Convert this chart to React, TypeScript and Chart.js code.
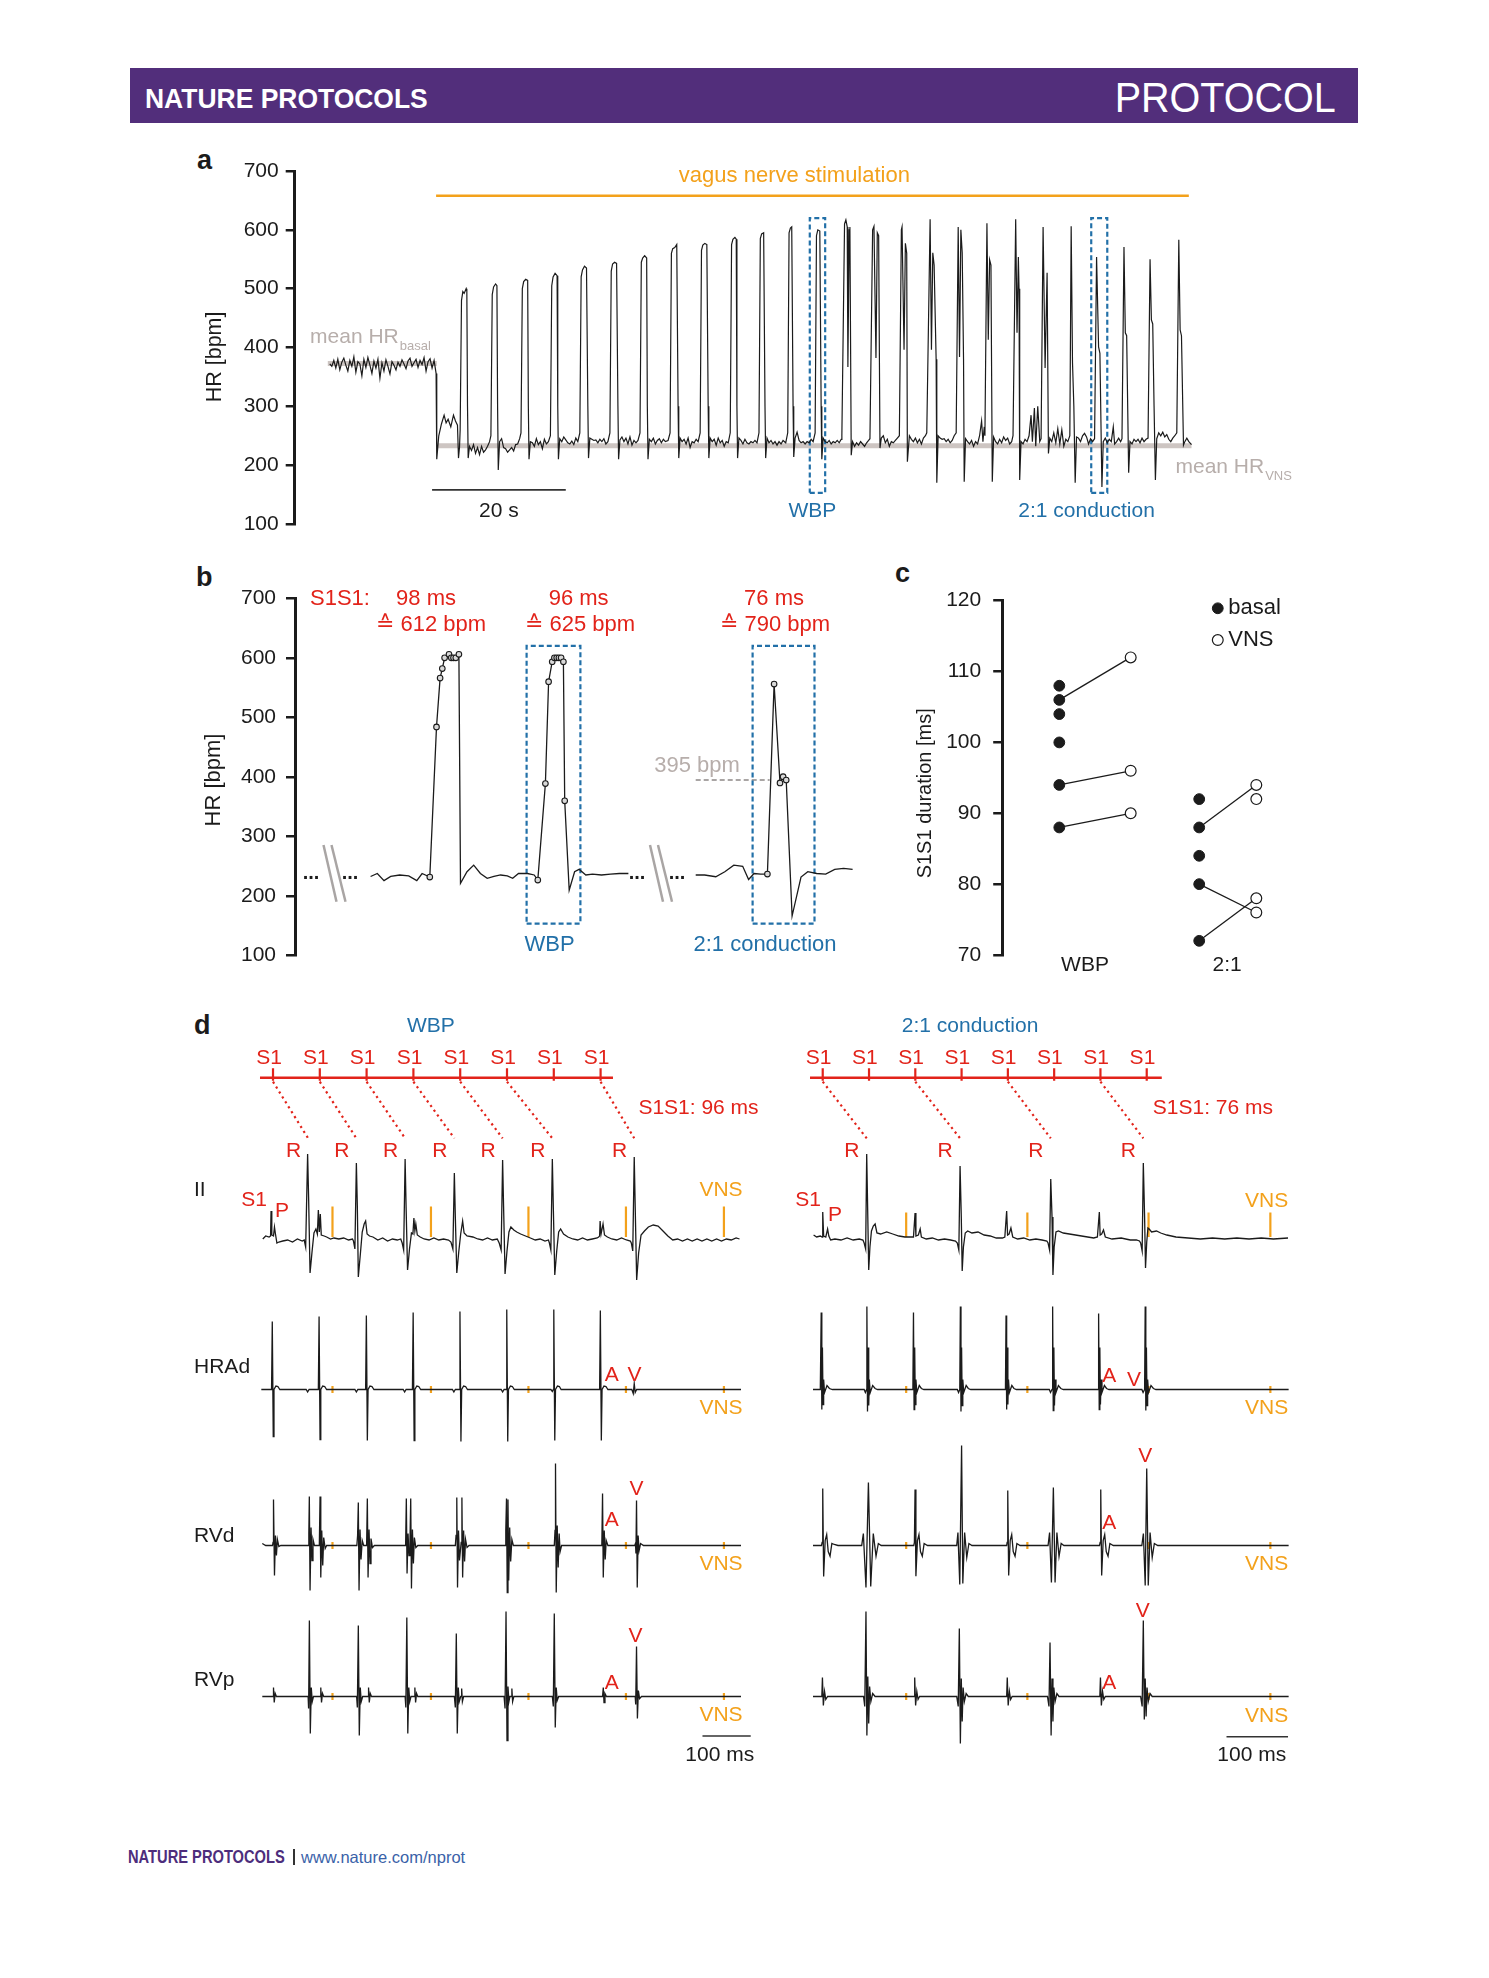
import React, { useEffect, useRef } from "react";
import { Chart, registerables } from "chart.js";
Chart.register(...registerables);

const FONT = "'Liberation Sans', Arial, Helvetica, 'DejaVu Sans', sans-serif";
const RED = "#e2231a";
const BLUE = "#2270a8";
const ORANGE = "#f3a11b";
const GRAYTXT = "#b7aeab";
const MEANGRAY = "#cdc5c2";
const INK = "#1b1b1b";

// ---------------- Panel a : heart rate over time (s, bpm) ----------------
const aYTicks = [100, 200, 300, 400, 500, 600, 700];
const aMeanBasal = 373;
const aMeanVns = 233;
const aVnsOn = [16.4, 129.0];
const aVnsLevel = 658;
const aScaleBar = [15.8, 35.8];
const aWbpBox = [72.3, 74.6, 153, 620];
const a21Box = [114.4, 116.8, 153, 620];
const aHrTrace = [
  [0.5,372],[0.8,368],[1.1,378],[1.4,365],[1.7,380],[2.0,362],[2.3,375],[2.6,382],[2.9,370],[3.2,360],[3.5,378],[3.8,368],[4.1,384],[4.4,358],[4.7,376],[5.0,372],[5.3,352],[5.6,380],[5.9,366],[6.2,383],[6.5,370],[6.8,356],[7.1,377],[7.4,365],[7.7,380],[8.0,348],[8.3,374],[8.6,360],[8.9,379],[9.2,368],[9.5,355],[9.8,376],[10.1,370],[10.4,362],[10.7,375],[11.0,368],[11.3,379],[11.6,372],[11.9,364],[12.2,377],[12.5,382],[12.8,368],[13.1,374],[13.4,380],[13.7,366],[14.0,378],[14.3,371],[14.6,383],[14.9,360],[15.2,376],[15.5,381],[15.8,365],[16.1,378],[16.4,356],
  [16.5,210],[16.8,250],[17.2,270],[17.6,285],[17.9,272],[18.2,278],[18.6,265],[19.0,285],[19.3,275],[19.6,268],[19.75,212],[19.9,230],
  [20.0,260],[20.2,480],[20.4,495],[20.6,492],[20.9,500],[21.0,496],[21.1,300],[21.2,212],[21.4,232],
  [21.7,225],[22.0,235],[22.3,220],[22.6,230],[22.9,218],[23.2,232],[23.5,222],[23.8,226],[24.1,232],[24.4,240],
  [24.6,250],[24.8,490],[25.0,503],[25.3,508],[25.5,505],[25.6,300],[25.7,192],[25.9,240],[26.2,245],[26.5,230],[26.8,228],[27.1,222],[27.4,226],[27.7,230],[28.0,224],[28.3,235],[28.6,236],[28.9,245],
  [29.1,255],[29.3,500],[29.5,512],[29.8,516],[30.1,514],[30.2,300],[30.3,210],[30.5,240],[30.8,238],[31.1,232],[31.4,245],[31.7,235],[32.0,240],[32.3,228],[32.6,244],[32.9,236],[33.2,240],
  [33.5,250],[33.7,505],[33.9,520],[34.2,526],[34.5,522],[34.6,300],[34.7,210],[34.9,245],[35.2,240],[35.5,248],[35.8,243],[36.1,238],[36.4,236],[36.7,241],[37.0,235],[37.3,246],[37.6,240],
  [37.9,255],[38.1,520],[38.3,532],[38.6,538],[38.9,535],[39.1,300],[39.2,212],[39.4,246],[39.7,244],[40.0,242],[40.3,243],[40.6,238],[40.9,244],[41.2,240],[41.5,245],[41.8,236],[42.1,240],
  [42.4,255],[42.6,530],[42.8,542],[43.1,545],[43.4,543],[43.6,300],[43.7,210],[43.9,243],[44.2,248],[44.5,240],[44.8,246],[45.1,236],[45.4,248],[45.7,234],[46.0,242],[46.3,238],[46.6,242],
  [46.9,255],[47.1,545],[47.3,552],[47.6,556],[47.9,552],[48.0,300],[48.1,210],[48.3,244],[48.6,240],[48.9,246],[49.2,236],[49.5,242],[49.8,245],[50.1,238],[50.4,244],[50.7,240],[51.1,242],
  [51.4,255],[51.6,560],[51.8,568],[52.1,570],[52.4,575],[52.6,300],[52.7,212],[52.9,246],[53.2,240],[53.5,244],[53.8,236],[54.1,246],[54.4,230],[54.7,240],[55.0,238],[55.3,244],[55.6,240],
  [55.9,255],[56.1,565],[56.3,574],[56.6,577],[56.9,575],[57.1,300],[57.2,212],[57.4,246],[57.7,240],[58.0,244],[58.3,234],[58.6,246],[58.9,238],[59.2,242],[59.5,232],[59.8,240],[60.1,238],
  [60.4,255],[60.6,575],[60.8,584],[61.1,587],[61.3,584],[61.4,300],[61.5,212],[61.7,246],[62.0,242],[62.3,236],[62.6,244],[62.9,238],[63.2,236],[63.5,240],[63.8,238],[64.1,242],[64.4,238],
  [64.7,255],[64.9,585],[65.1,593],[65.4,595],[65.6,300],[65.7,212],[65.9,246],[66.2,238],[66.5,242],[66.8,236],[67.1,240],[67.4,234],[67.7,240],[68.0,236],[68.3,242],[68.7,238],
  [69.0,255],[69.2,595],[69.4,603],[69.6,605],[69.8,300],[69.9,214],[70.1,246],[70.4,256],[70.7,242],[71.0,238],[71.3,240],[71.6,236],[71.9,240],[72.2,238],[72.5,244],[72.8,240],
  [73.1,255],[73.3,590],[73.5,600],[73.8,598],[74.0,300],[74.1,210],[74.3,246],[74.6,240],[74.9,238],[75.2,242],[75.5,236],[75.8,240],[76.1,238],[76.4,242],[76.7,238],[77.0,244],
  [77.1,250],[77.5,610],[77.7,617],[77.9,605],[78.0,367],[78.2,600],[78.3,605],[78.5,217],[78.7,240],[79.0,232],[79.3,238],[79.6,234],[79.9,240],[80.2,236],[80.5,232],[80.8,238],[81.1,242],
  [81.3,245],[81.7,600],[81.9,606],[82.2,382],[82.4,595],[82.6,590],[82.8,229],[83.0,246],[83.3,250],[83.6,238],[83.9,244],[84.2,232],[84.5,240],[84.8,238],[85.1,242],[85.4,246],
  [85.7,250],[86.0,600],[86.1,605],[86.4,396],[86.6,577],[86.8,560],[86.9,206],[87.2,250],[87.5,244],[87.8,240],[88.1,246],[88.4,238],[88.7,244],[89.0,236],[89.3,246],[89.6,250],
  [89.8,255],[90.3,618],[90.5,396],[90.7,561],[90.9,540],[91.2,380],[91.3,170],[91.5,250],[91.8,246],[92.1,244],[92.4,245],[92.7,240],[93.0,244],[93.3,238],[93.6,242],[93.9,250],
  [94.2,255],[94.5,605],[94.7,384],[94.9,600],[95.1,561],[95.3,380],[95.4,172],[95.6,245],[95.9,240],[96.2,236],[96.5,242],[96.8,232],[97.1,240],[97.4,236],[97.7,250],[98.0,275],[98.2,240],[98.4,265],
  [98.5,250],[98.8,611],[99.0,413],[99.2,549],[99.4,540],[99.6,172],[99.8,248],[100.1,240],[100.4,236],[100.7,244],[101.0,238],[101.3,248],[101.6,242],[101.9,246],[102.2,236],[102.5,240],
  [102.7,250],[103.1,618],[103.3,425],[103.5,554],[103.6,500],[103.7,175],[103.9,240],[104.2,236],[104.5,244],[104.8,240],[105.1,250],[105.4,285],[105.6,240],[105.9,297],[106.1,232],[106.4,300],[106.7,240],
  [106.9,245],[107.2,605],[107.5,365],[107.8,527],[108.0,220],[108.2,246],[108.5,240],[108.8,255],[109.1,238],[109.4,262],[109.7,236],[110.0,260],[110.3,232],[110.6,244],[110.9,240],
  [111.2,250],[111.4,606],[111.6,374],[111.8,300],[112.0,170],[112.2,248],[112.5,246],[112.8,240],[113.1,250],[113.4,254],[113.7,248],[114.0,236],[114.3,245],[114.6,240],
  [114.9,245],[115.2,554],[115.5,401],[115.7,390],[116.0,163],[116.2,240],[116.5,246],[116.8,238],[117.1,244],[117.4,240],[117.7,265],[117.9,236],[118.2,240],[118.5,246],[118.8,240],
  [119.0,245],[119.3,571],[119.5,425],[119.7,420],[120.0,187],[120.2,240],[120.5,236],[120.8,244],[121.1,240],[121.4,244],[121.7,238],[122.0,246],[122.3,240],[122.6,244],
  [122.9,246],[123.2,550],[123.4,447],[123.6,440],[123.8,300],[124.0,175],[124.2,245],[124.5,255],[124.8,250],[125.1,256],[125.4,248],[125.7,252],[126.0,244],[126.3,240],[126.6,246],[126.9,250],
  [127.2,255],[127.5,583],[127.7,430],[127.9,420],[128.2,234],[128.4,240],[128.7,246],[129.0,240],[129.4,235],
];

// ---------------- Panel b : beat-to-beat HR (a.u. time, bpm); 3rd value 1 = detected beat ----------------
const bYTicks = [100, 200, 300, 400, 500, 600, 700];
const bSegWbp = [
  [7.56,233],[8.23,238],[8.90,226],[9.57,233],[10.47,235.5],[11.37,234],[12.18,226],[12.71,238],
  [13.48,232,1],[14.15,484,1],[14.51,566,1],[14.73,582,1],[14.96,600,1],[15.40,606,1],[15.63,600,1],[15.85,600,1],[16.08,600,1],[16.39,606,1],
  [16.55,221.5],[17.2,241],[17.87,252],[18.54,238],[19.22,230],[19.89,233],[20.56,235.5],[21.23,234],[21.77,230],[22.35,238],[23.25,238],[23.92,235.5],
  [24.28,227,1],[25.04,389,1],[25.36,560,1],[25.72,593.5,1],[25.94,600,1],[26.17,600,1],[26.39,600,1],[26.61,600,1],[26.84,593.5,1],[26.97,360,1],
  [27.42,210],[27.96,241],[28.41,245],[29.08,235.5],[29.75,237],[30.65,235.5],[31.55,237],[32.44,238],[33.34,238],
];
const bSeg21 = [
  [40.07,235.5],[40.96,235.5],[42.08,232.6],[42.98,241],[43.88,252],[44.77,250],[45.36,228],[45.9,238],[46.57,237],
  [47.24,237,1],[47.91,556,1],[48.50,390,1],[48.81,400.5,1],[49.12,395,1],
  [49.71,166.6],[50.6,232],[51.28,241],[52.17,238],[53.07,237],[53.97,245],[54.86,246.7],[55.76,245],
];
const bWbpBox = [23.16, 28.54, 154, 620];
const b21Box = [45.76, 51.95, 154, 620];
const b395Line = [40.07, 47.47, 395];
const bBreaks = [2.85, 35.5];

// ---------------- Panel c : S1S1 duration (ms) ----------------
const cYTicks = [70, 80, 90, 100, 110, 120];
const cGroupX = { wbpBasal: 1, wbpVns: 2, cBasal: 2.96, cVns: 3.76 };
const cBasalWbp = [108, 106, 104, 100, 94, 88];
const cVnsWbp = [112, 96, 90];
const cPairsWbp = [[106, 112], [94, 96], [88, 90]];
const cBasal21 = [92, 88, 84, 80, 72];
const cVns21 = [94, 92, 78, 76];
const cPairs21 = [[88, 94], [80, 76], [72, 78]];

// ---------------- Panel d : electrograms (ms, amplitude a.u.) ----------------
const dLeftS1 = [0, 96, 192, 288, 384, 480, 576, 672];
const dLeftR = [72, 171, 271, 372, 471, 573, 741];
const dLeftConducted = [[0, 72], [96, 171], [192, 271], [288, 372], [384, 471], [480, 573], [672, 741]];
const dLeftVns = [122, 324, 524, 724, 925];
const dRightS1 = [0, 76, 152, 228, 304, 380, 456, 532];
const dRightR = [72.2, 225.5, 374.4, 526.4];
const dRightConducted = [[0, 72.2], [152, 225.5], [304, 374.4], [456, 526.4]];
const dRightVns = [137, 336, 535, 735];

const dLeftII = [
  [-21,-0.2],[-15,0.1],[-8,0],[-5,0.1],[-4,2.6],[-2.5,0.2],[1,0.1],[3,1.0],[5,0.3],[8,-0.6],[12,-0.5],[20,-0.4],[30,-0.3],[40,-0.5],[50,-0.2],[60,-0.4],
  [64,-0.3],[67,-1.0],[71,8.3],[73,4],[76,-3.6],[80,-1.5],[84,0.4],[88,0.8],[91,0.3],[93,2.7],[95,0.5],[97,2.3],[99,0.2],[105,0.1],[110,0],[118,-0.2],[125,-0.1],[135,-0.2],[145,-0.1],[155,-0.3],[163,-0.2],
  [165,-0.4],[168,-1.2],[171,7.4],[173,3],[175,-4.0],[179,-1.8],[183,0.5],[187,1.3],[190,1.6],[193,0.3],[198,0.1],[205,0],[215,-0.3],[225,-0.1],[235,-0.4],[245,-0.2],[255,-0.3],[262,-0.2],
  [265,-0.6],[268,-1.3],[271,7.8],[273,3],[276,-3.3],[280,-1.2],[284,0.4],[287,0.3],[289,1.9],[291,0.6],[293,1.3],[296,0.2],[302,0],[310,-0.2],[320,-0.3],[330,-0.1],[340,-0.3],[350,-0.2],[360,-0.3],
  [365,-0.5],[369,-1.2],[372,6.4],[374,2],[377,-3.6],[381,-1.5],[385,0.3],[389,1.6],[392,0.4],[398,0.1],[410,0],[420,-0.2],[430,-0.3],[440,-0.1],[450,-0.3],[460,-0.2],
  [464,-0.6],[468,-1.3],[471,7.7],[473,3],[476,-3.7],[480,-1.4],[484,0.5],[488,1.0],[494,0.7],[500,0.5],[508,0.3],[518,0.1],[528,-0.1],[538,-0.3],[548,-0.2],[558,-0.4],[565,-0.3],
  [567,-0.6],[570,-1.3],[573,7.8],[575,3],[578,-3.8],[582,-1.4],[586,0.5],[590,0.8],[596,0.3],[605,0],[615,-0.2],[625,-0.3],[635,-0.1],[645,-0.3],[655,-0.2],[665,-0.1],
  [668,0],[670,0.1],[671,1.6],[673,0.3],[677,1.3],[680,0.2],[686,0],[695,-0.2],[705,-0.3],[715,-0.1],[725,-0.3],[733,-0.4],
  [735,-0.6],[738,-1.4],[741,8.0],[743,3],[746,-4.3],[750,-1.6],[755,0.2],[762,0.6],[770,1.0],[780,1.2],[790,1.1],[800,0.6],[810,0.1],[820,-0.3],[830,-0.2],[840,-0.4],[850,-0.2],[860,-0.4],[870,-0.2],[880,-0.4],[890,-0.2],[900,-0.4],[910,-0.2],[920,-0.4],[930,-0.2],[940,-0.3],[950,-0.1],[957,-0.2],
];
const dLeftHRAd = [
  [-24,0],[-3,0],[-1.5,6.8],[0.5,-4.7],[2,0],[6,0.35],[10,0.3],[14,0],[40,0],[68,0],[71,-0.25],[74,0],
  [93,0],[94.5,7.3],[96.5,-5.0],[98,0],[102,0.35],[106,0.3],[110,0],[150,0],[168,0],[171,-0.25],[174,0],
  [190,0],[191.5,7.4],[193.5,-5.1],[195,0],[199,0.35],[203,0.3],[207,0],[240,0],[267,0],[270,-0.25],[273,0],
  [286,0],[287.5,7.7],[289.5,-5.1],[291,0],[295,0.35],[299,0.3],[303,0],[340,0],[368,0],[371,-0.25],[374,0],
  [382,0],[383.5,7.8],[385.5,-5.2],[387,0],[391,0.35],[395,0.3],[399,0],[440,0],[468,0],[471,-0.25],[474,0],
  [478,0],[479.5,8.0],[481.5,-5.2],[483,0],[487,0.35],[491,0.3],[495,0],[540,0],[570,0],[573,-0.2],[575,0],
  [576,8.0],[578,-5.1],[579.5,0],[583.5,0.35],[587.5,0.3],[591,0],[630,0],[670,0],
  [671.5,7.9],[673.5,-5.1],[675,0],[679,0.35],[683,0.3],[687,0],[736,0],[739,-0.4],[741,0.6],[743,-0.3],[746,0],[800,0],[960,0],
];
const dLeftRVd = [
  [-22,0.2],[-15,0],[-1,0],[0,0.3],[1,4.6],[3,-3.0],[5,1.0],[7,-1.0],[9,0.6],[12,-0.1],[16,0],[60,0],
  [72,0],[73.5,1.2],[74.5,4.9],[76,-4.5],[78,1.8],[80,-1.5],[82,0.6],[85,0],
  [95,0],[96.5,4.9],[98,-3.2],[100,1.5],[102,-2.0],[104,0.8],[107,-0.3],[110,0],[150,0],
  [172,0],[173.5,1.0],[175,4.3],[176.5,-4.5],[178.5,1.6],[180.5,-1.4],[183,0.5],[186,0],
  [192,0],[193.5,4.7],[195,-3.2],[197,1.6],[199,-1.8],[201,0.7],[204,-0.2],[208,0],[240,0],
  [272,0],[273.5,4.7],[275,-2.8],[277,1.2],[279,-1.0],[281,0.5],[282.5,4.7],[284,-4.3],[286,1.6],[288,-1.8],[290,0.8],[293,-0.2],[297,0],[340,0],
  [374,0],[375.5,1.0],[377,4.8],[378.5,-4.2],[380.5,1.5],[382.5,-1.5],[386,0.3],[387.5,4.8],[389,-3.2],[391,1.5],[393,-1.6],[395,0.6],[398,-0.2],[402,0],[440,0],
  [476,0],[477.5,1.5],[479,4.7],[480.5,-4.7],[482,4.6],[483.5,-3.5],[485.5,1.8],[487.5,-1.6],[490,0.6],[493,0],[540,0],
  [577,0],[578.5,1.5],[579.5,8.2],[581,-4.7],[583,2.0],[585,-2.2],[587,1.2],[589,-0.6],[592,0],[630,0],
  [674.5,0],[676,5.2],[677.5,-3.2],[679.5,1.5],[681.5,-1.4],[683.5,0.5],[687,0],[730,0],
  [742,0],[743.5,0.2],[744.5,-0.8],[745.7,4.5],[747.2,-4.2],[749,1.0],[751,-0.5],[754,0.2],[760,0],[960,0],
];
const dLeftRVp = [
  [-22,0],[0,0],[1,0.9],[2.5,-0.6],[4.5,0.3],[7,0],[70,0],
  [72,0],[73,-1.2],[74.6,7.6],[76.5,-3.7],[78.5,0.9],[80.5,-0.5],[83,0],
  [97,0],[98,0.9],[99.5,-0.6],[101.5,0.3],[104,0],[170,0],
  [171.5,0],[173,-1.1],[175,7.1],[177,-3.9],[179,0.9],[181,-0.5],[184,0],
  [195,0],[196,0.9],[197.5,-0.6],[199.5,0.3],[202,0],[270,0],
  [271,0],[272.5,-1.1],[274.5,7.9],[276.5,-3.7],[278.5,0.9],[280.5,-0.5],[283,0],
  [290,0],[291,0.9],[292.5,-0.6],[294.5,0.3],[297,0],[372,0],
  [373,0],[374,-1.1],[376,6.3],[378,-3.7],[380,0.9],[382,-0.5],[385,0],
  [386,0],[387,0.8],[388.5,-0.5],[391,0],[474,0],
  [475,0],[476,-1.2],[478,8.5],[480,-4.4],[482,1.0],[484,-0.5],[486,0],
  [489,0],[490,0.8],[491.5,-0.5],[494,0],[573,0],
  [574,0],[575,-1.0],[577,8.3],[579,-3.1],[581,0.9],[583,-0.4],[586,0],
  [676,0],[677.5,0.9],[679,-0.6],[681,0.3],[684,0],[742,0],
  [743,0],[744,-0.8],[745.7,5.0],[747.5,-2.2],[749.5,0.6],[752,-0.2],[756,0],[960,0],
];

const dRightII = [
  [-15,0.2],[-10,0],[-4,0.1],[-1,0],[0,2.5],[1.5,0.1],[5,0],[8,0.8],[10,0.1],[13,-0.3],[20,-0.2],[30,-0.3],[40,-0.1],[50,-0.3],[60,-0.2],[66,-0.3],
  [68,-0.6],[70.5,-1.2],[72.2,8.3],[74,2.0],[75.5,-3.3],[77.5,-1.0],[80,0.6],[83,1.1],[86,1.3],[89,0.4],[95,0.3],[105,0.5],[115,0.3],[125,0.1],[135,0],
  [149,0],[151.6,2.4],[153,0.1],[157,0.2],[160,0.8],[162,0],[170,-0.2],[180,-0.1],[190,-0.3],[200,-0.2],[210,-0.3],[218,-0.4],
  [221,-0.6],[223.5,-1.3],[225.5,7.1],[227.5,2],[229,-3.4],[231,-1.0],[234,0.4],[238,0.6],[245,0.4],[255,0.5],[265,0.2],[275,0.1],[285,-0.1],[295,-0.1],
  [299,0],[302,2.6],[303.5,0.2],[306,0.3],[309,0.9],[312,0],[320,-0.2],[330,-0.1],[340,-0.3],[350,-0.2],[360,-0.3],[368,-0.4],
  [370,-0.6],[372.5,-1.3],[374.4,5.8],[376.5,2],[378,-3.8],[380,-1.0],[383,0.5],[387,0.6],[395,0.4],[405,0.3],[415,0.2],[425,0.1],[435,0],[445,-0.1],
  [451,0],[454.2,2.5],[455.5,0.2],[458,0.3],[461,0.7],[464,0],[475,-0.2],[490,-0.1],[505,-0.3],[515,-0.3],[520,-0.4],
  [522,-0.6],[524.5,-1.4],[526.4,7.4],[528.5,2],[530,-3.1],[532,-0.5],[534,0.9],[536,0.8],[540,0.5],[548,0.6],[555,0.4],[565,0.2],[580,0],[600,-0.1],[620,-0.2],[640,-0.1],[660,-0.2],[680,-0.1],[700,-0.2],[720,-0.1],[740,-0.2],[764,-0.1],
];
const dRightHRAd = [
  [-16,0],[-4,0],[-2.5,7.7],[-1.5,-2.0],[-0.5,4.2],[0.5,-1.5],[1.5,1.0],[3,-0.3],[7,0.4],[11,0.1],[16,0],
  [68,0],[70,-0.3],[72,0],[72.5,8.3],[73.5,-2.2],[74.5,4.2],[75.5,-1.6],[76.5,1.0],[78,-0.3],[82,0.4],[86,0.1],[90,0],
  [148,0],[149,7.7],[150,-2.0],[151,4.2],[152,-1.5],[153,1.0],[154.5,-0.3],[158.5,0.4],[162,0.1],[166,0],
  [221,0],[223,-0.3],[225,0],[226,8.3],[227,-2.2],[228,4.2],[229,-1.6],[230,1.0],[231.5,-0.3],[235.5,0.4],[239,0.1],[243,0],
  [300,0],[301,7.4],[302,-2.0],[303,4.2],[304,-1.5],[305,1.0],[306.5,-0.3],[310.5,0.4],[314,0.1],[318,0],
  [372,0],[374,-0.3],[376.5,0],[377.5,8.3],[378.5,-2.1],[379.5,4.2],[380.5,-1.6],[381.5,1.0],[383,-0.3],[387,0.4],[391,0.1],[395,0],
  [452,0],[453,7.6],[454,-2.0],[455,4.2],[456,-1.5],[457,1.0],[458.5,-0.3],[462.5,0.4],[466,0.1],[470,0],
  [524,0],[526,-0.3],[528.5,0],[529.5,8.3],[530.5,-2.1],[531.5,4.2],[532.5,-1.6],[533.5,1.0],[535,-0.3],[539,0.4],[543,0.1],[547,0],[765,0],
];
const dRightRVd = [
  [-16,0],[-2,0],[-1,0.3],[0,5.7],[1.5,-3.1],[4,0.5],[6.5,1.1],[9,-0.6],[12,-1.07],[15,0.2],[19,0.1],[25,0],
  [64,0],[66.7,1.2],[71,-4.2],[75,6.3],[78.8,-4.1],[83,1.2],[87.5,-1.07],[91.3,0.2],[96,0],
  [149.5,0],[150.5,0.3],[151.6,5.6],[153,-3.07],[155.5,0.5],[158,1.1],[160.5,-0.6],[163.5,-1.07],[166.5,0.2],[172,0],
  [220,0],[222,1.3],[225,-3.9],[228,10.0],[230,-3.8],[233,1.3],[236.5,-1.2],[240,0.2],[245,0],
  [302,0],[302.8,0.3],[303.8,5.5],[305.3,-3.0],[307.8,0.5],[310.3,1.1],[312.8,-0.6],[315.8,-1.07],[318.8,0.2],[324,0],
  [370,0],[372.5,1.3],[375.5,-3.7],[378.7,5.8],[381.5,-3.7],[384.5,1.3],[388,-1.1],[391.5,0.2],[396,0],
  [454.5,0],[455.5,0.3],[456.5,5.6],[458,-3.0],[460.5,0.5],[463,1.1],[465.5,-0.6],[468.5,-1.07],[471.5,0.2],[477,0],
  [524,0],[526.5,1.2],[529.5,-4.0],[532,7.7],[534.5,-4.0],[537.5,1.3],[541,-1.2],[544.5,0.2],[550,0],[765,0],
];
const dRightRVp = [
  [-16,0],[-1.5,0],[-0.5,1.9],[1,-0.9],[3,0.5],[5,-0.3],[8,0],
  [67,0],[69,-1.0],[71,8.5],[72.5,-3.9],[74,2.0],[75.5,-2.7],[77,1.0],[79,-0.5],[82,0.3],[86,0],
  [150,0],[151,1.9],[152.5,-0.9],[154.5,0.5],[156.5,-0.3],[159,0],
  [220,0],[222.5,-1.0],[224.3,6.8],[226,-4.7],[227.5,1.8],[229,-2.5],[230.5,0.9],[232.5,-0.5],[235.5,0.3],[239,0],
  [302,0],[303,1.9],[304.5,-0.9],[306.5,0.5],[308.5,-0.3],[311,0],
  [369,0],[371.5,-1.0],[373.2,5.4],[375,-3.9],[376.5,1.8],[378,-2.5],[379.5,0.9],[381.5,-0.5],[384.5,0.3],[388,0],
  [455,0],[456,1.9],[457.5,-0.9],[459.5,0.5],[461.5,-0.3],[464,0],
  [522,0],[524.5,-1.0],[526.4,7.6],[528,-2.3],[529.5,1.8],[531,-2.0],[532.5,0.9],[534.5,-0.5],[537.5,0.3],[541,0],[765,0],
];

// channel baselines in panel d (a.u.)
const D_OFF = { II: 54.3, HRAd: 39.05, RVd: 23.45, RVp: 8.35 };
const D_STIM = 70.23;

// ---------------- helpers ----------------
function line(points, color, width, extra = {}) {
  return {
    data: points.map((p) => ({ x: p[0], y: p[1] })),
    showLine: true, borderColor: color, borderWidth: width, pointRadius: 0,
    pointHoverRadius: 0, fill: false, tension: 0, ...extra,
  };
}
function rect(b) {
  const [x0, x1, y0, y1] = b;
  return [[x0, y0], [x1, y0], [x1, y1], [x0, y1], [x0, y0]];
}
function textPlugin(items) {
  return {
    id: "texts",
    afterDraw(chart) {
      const ctx = chart.ctx;
      const xs = chart.scales.x;
      const ys = chart.scales.y;
      items.forEach((it) => {
        const px = xs.getPixelForValue(it.x);
        const py = ys.getPixelForValue(it.y);
        ctx.save();
        ctx.font = `${it.bold ? "bold " : ""}${it.size || 21}px ${FONT}`;
        ctx.fillStyle = it.color || INK;
        ctx.textAlign = it.align || "center";
        ctx.textBaseline = it.baseline || "middle";
        ctx.translate(px, py);
        if (it.rotate) ctx.rotate((it.rotate * Math.PI) / 180);
        ctx.fillText(it.text, 0, 0);
        if (it.sub) {
          const w = ctx.measureText(it.text).width;
          ctx.font = `${it.subSize || 13}px ${FONT}`;
          ctx.textAlign = "left";
          ctx.fillText(it.sub, w + 1, it.subDy || 7);
        }
        ctx.restore();
      });
    },
  };
}
function yAxis(min, max, tickVals, width, labelPad) {
  return {
    type: "linear", min, max, position: "left",
    afterFit: (s) => { s.width = width; },
    afterBuildTicks: (s) => { s.ticks = tickVals.map((v) => ({ value: v })); },
    ticks: { font: { family: FONT, size: 21 }, color: INK, padding: labelPad, autoSkip: false },
    grid: { drawOnChartArea: false, drawTicks: true, tickLength: 9, lineWidth: 2.5, color: INK },
    border: { display: true, color: INK, width: 3 },
  };
}
function baseOptions(pad, xMin, xMax, y) {
  return {
    animation: false, responsive: false, maintainAspectRatio: false, events: [],
    layout: { padding: pad },
    plugins: { legend: { display: false }, tooltip: { enabled: false }, title: { display: false } },
    scales: { x: { type: "linear", display: false, min: xMin, max: xMax }, y },
  };
}

// ---------------- chart configs ----------------
function makeA() {
  const datasets = [
    line(aHrTrace, INK, 1.2),
    line([[aVnsOn[0], aVnsLevel], [aVnsOn[1], aVnsLevel]], ORANGE, 2.6),
    line(rect(aWbpBox), BLUE, 2.2, { borderDash: [5, 3] }),
    line(rect(a21Box), BLUE, 2.2, { borderDash: [5, 3] }),
    line([[aScaleBar[0], 158], [aScaleBar[1], 158]], "#333", 1.6),
    line([[0.2, aMeanBasal], [16.5, aMeanBasal]], MEANGRAY, 5),
    line([[16.7, aMeanVns], [129.4, aMeanVns]], MEANGRAY, 5),
  ];
  const texts = [
    { x: 70, y: 691.5, text: "vagus nerve stimulation", color: ORANGE, size: 22 },
    { x: 25.8, y: 121, text: "20 s", size: 21 },
    { x: 72.7, y: 121, text: "WBP", color: BLUE, size: 21 },
    { x: 113.7, y: 121, text: "2:1 conduction", color: BLUE, size: 21 },
    { x: -16.6, y: 384, text: "HR [bpm]", rotate: -90, size: 21.5 },
    { x: -2.45, y: 407.7, text: "mean HR", sub: "basal", color: GRAYTXT, align: "left", baseline: "alphabetic", size: 21 },
    { x: 127.0, y: 186.7, text: "mean HR", sub: "VNS", color: GRAYTXT, align: "left", baseline: "alphabetic", size: 21 },
  ];
  return {
    type: "scatter",
    data: { datasets },
    options: baseOptions({ left: 0, top: 31, right: 10, bottom: 26 }, -4.75, 145.63, yAxis(100, 700, aYTicks, 144.7, 7)),
    plugins: [textPlugin(texts)],
  };
}

function makeB() {
  const circles = (seg) => ({
    data: seg.filter((p) => p[2]).map((p) => ({ x: p[0], y: p[1] })),
    showLine: false, pointRadius: 2.8, pointHoverRadius: 2.8, pointBorderWidth: 1.1,
    pointBorderColor: INK, pointBackgroundColor: "#d9d9d9",
  });
  const breaks = [];
  bBreaks.forEach((b) => {
    breaks.push(line([[b, 285.8], [b + 1.3, 190.6]], "#a9a5a4", 2.5));
    breaks.push(line([[b + 0.8, 285.8], [b + 2.2, 190.6]], "#a9a5a4", 2.5));
  });
  const datasets = [
    circles(bSegWbp),
    circles(bSeg21),
    line(bSegWbp, INK, 1.3),
    line(bSeg21, INK, 1.3),
    line(rect(bWbpBox), BLUE, 2.2, { borderDash: [5, 3] }),
    line(rect(b21Box), BLUE, 2.2, { borderDash: [5, 3] }),
    line([[b395Line[0], b395Line[2]], [b395Line[1], b395Line[2]]], "#a9a5a4", 2, { borderDash: [5, 3] }),
    ...breaks,
  ];
  const texts = [
    { x: 1.5, y: 688.7, text: "S1S1:", color: RED, size: 22, align: "left", baseline: "alphabetic" },
    { x: 13.1, y: 688.7, text: "98 ms", color: RED, size: 22, baseline: "alphabetic" },
    { x: 13.6, y: 645, text: "\u2259 612 bpm", color: RED, size: 22, baseline: "alphabetic" },
    { x: 28.36, y: 688.7, text: "96 ms", color: RED, size: 22, baseline: "alphabetic" },
    { x: 28.5, y: 645, text: "\u2259 625 bpm", color: RED, size: 22, baseline: "alphabetic" },
    { x: 47.9, y: 688.7, text: "76 ms", color: RED, size: 22, baseline: "alphabetic" },
    { x: 48.0, y: 645, text: "\u2259 790 bpm", color: RED, size: 22, baseline: "alphabetic" },
    { x: -8.14, y: 395, text: "HR [bpm]", rotate: -90, size: 22 },
    { x: 25.45, y: 118, text: "WBP", color: BLUE, size: 22 },
    { x: 47.0, y: 118, text: "2:1 conduction", color: BLUE, size: 22 },
    { x: 40.2, y: 419, text: "395 bpm", color: GRAYTXT, size: 22 },
    { x: 1.6, y: 229, text: "...", size: 20, bold: true, baseline: "alphabetic" },
    { x: 5.5, y: 229, text: "...", size: 20, bold: true, baseline: "alphabetic" },
    { x: 34.2, y: 229, text: "...", size: 20, bold: true, baseline: "alphabetic" },
    { x: 38.2, y: 229, text: "...", size: 20, bold: true, baseline: "alphabetic" },
  ];
  return {
    type: "scatter",
    data: { datasets },
    options: baseOptions({ left: 0, top: 38.3, right: 15, bottom: 24.3 }, 0, 57, yAxis(100, 700, bYTicks, 145, 10)),
    plugins: [textPlugin(texts)],
  };
}

function makeC() {
  const filled = (pts) => ({
    data: pts, showLine: false, pointRadius: 5.4, pointHoverRadius: 5.4,
    pointBackgroundColor: INK, pointBorderColor: INK, pointBorderWidth: 1,
  });
  const open = (pts) => ({
    data: pts, showLine: false, pointRadius: 5.4, pointHoverRadius: 5.4,
    pointBackgroundColor: "#ffffff", pointBorderColor: INK, pointBorderWidth: 1.2,
  });
  const pairLines = [];
  cPairsWbp.forEach(([a, b]) => pairLines.push(line([[cGroupX.wbpBasal, a], [cGroupX.wbpVns, b]], INK, 1.3)));
  cPairs21.forEach(([a, b]) => pairLines.push(line([[cGroupX.cBasal, a], [cGroupX.cVns, b]], INK, 1.3)));
  const datasets = [
    filled(cBasalWbp.map((v) => ({ x: cGroupX.wbpBasal, y: v }))),
    open(cVnsWbp.map((v) => ({ x: cGroupX.wbpVns, y: v }))),
    filled(cBasal21.map((v) => ({ x: cGroupX.cBasal, y: v }))),
    open(cVns21.map((v) => ({ x: cGroupX.cVns, y: v }))),
    filled([{ x: 3.22, y: 118.93 }]),
    open([{ x: 3.22, y: 114.45 }]),
    ...pairLines,
  ];
  const texts = [
    { x: -0.88, y: 92.82, text: "S1S1 duration [ms]", rotate: -90, size: 20 },
    { x: 1.36, y: 68.6, text: "WBP", size: 21 },
    { x: 3.35, y: 68.6, text: "2:1", size: 21 },
    { x: 3.367, y: 118.93, text: "basal", align: "left", size: 22 },
    { x: 3.367, y: 114.45, text: "VNS", align: "left", size: 22 },
  ];
  return {
    type: "scatter",
    data: { datasets },
    options: baseOptions({ left: 0, top: 40.7, right: 28, bottom: 25 }, 0.2, 4.4, yAxis(70, 120, cYTicks, 132.2, 12)),
    plugins: [textPlugin(texts)],
  };
}

function makeD(side) {
  const L = side === "left";
  const traces = L ? [dLeftII, dLeftHRAd, dLeftRVd, dLeftRVp] : [dRightII, dRightHRAd, dRightRVd, dRightRVp];
  const offs = [D_OFF.II, D_OFF.HRAd, D_OFF.RVd, D_OFF.RVp];
  const s1 = L ? dLeftS1 : dRightS1;
  const rr = L ? dLeftR : dRightR;
  const conducted = L ? dLeftConducted : dRightConducted;
  const vns = L ? dLeftVns : dRightVns;
  const stim = L ? [-26.7, 697.4] : [-20.9, 556.7];
  const vnsH = L ? 3.06 : 2.46;
  const bar = L ? [881, 980, 4.4] : [663, 764, 4.33];
  const datasets = [];
  traces.forEach((tr, i) => datasets.push(line(tr.map((p) => [p[0], p[1] + offs[i]]), INK, 1.3)));
  datasets.push(line([[stim[0], D_STIM], [stim[1], D_STIM]], RED, 2.5));
  s1.forEach((t) => datasets.push(line([[t, 69.93], [t, 71.17]], RED, 2.2)));
  conducted.forEach(([s, r]) => datasets.push(line([[s, 69.83], [r, 64.17]], RED, 2.2, { borderDash: [2.2, 3.6] })));
  vns.forEach((t) => datasets.push(line([[t, D_OFF.II], [t, D_OFF.II + vnsH]], ORANGE, 2.2)));
  [D_OFF.HRAd, D_OFF.RVd, D_OFF.RVp].forEach((o) =>
    vns.forEach((t) => datasets.push(line([[t, o - 0.35], [t, o + 0.35]], ORANGE, 2.2)))
  );
  datasets.push(line([[bar[0], bar[2]], [bar[1], bar[2]]], "#333", 1.6));

  const s1Shift = L ? -8 : -7;
  const rShift = L ? -30 : -24.6;
  const texts = [
    { x: L ? 324 : 241.9, y: 75.33, text: L ? "WBP" : "2:1 conduction", color: BLUE },
    ...s1.map((t) => ({ x: t + s1Shift, y: 72.17, text: "S1", color: RED })),
    ...rr.map((t) => ({ x: t + rShift, y: 62.83, text: "R", color: RED })),
    { x: L ? 749.5 : 541.9, y: 67.17, text: L ? "S1S1: 96 ms" : "S1S1: 76 ms", color: RED, align: "left" },
    { x: L ? -39 : -24, y: 58.0, text: "S1", color: RED },
    { x: L ? 18.5 : 20.2, y: L ? 56.83 : 56.5, text: "P", color: RED },
  ];
  const vx = L ? 919 : 729;
  texts.push({ x: vx, y: L ? 59.0 : 57.83, text: "VNS", color: ORANGE });
  texts.push({ x: vx, y: 37.17, text: "VNS", color: ORANGE });
  texts.push({ x: vx, y: 21.6, text: "VNS", color: ORANGE });
  texts.push({ x: vx, y: L ? 6.5 : 6.4, text: "VNS", color: ORANGE });
  if (L) {
    texts.push({ x: -162, y: 59.0, text: "II", align: "left" });
    texts.push({ x: -162, y: 41.27, text: "HRAd", align: "left" });
    texts.push({ x: -162, y: 24.33, text: "RVd", align: "left" });
    texts.push({ x: -162, y: 10.0, text: "RVp", align: "left" });
    texts.push({ x: 695, y: 40.5, text: "A", color: RED }, { x: 741.7, y: 40.5, text: "V", color: RED });
    texts.push({ x: 695, y: 26.0, text: "A", color: RED }, { x: 745.6, y: 29.1, text: "V", color: RED });
    texts.push({ x: 695, y: 9.67, text: "A", color: RED }, { x: 743.4, y: 14.4, text: "V", color: RED });
    texts.push({ x: 916.5, y: 2.5, text: "100 ms" });
  } else {
    texts.push({ x: 470.6, y: 40.4, text: "A", color: RED }, { x: 511, y: 40.0, text: "V", color: RED });
    texts.push({ x: 470.6, y: 25.67, text: "A", color: RED }, { x: 529.4, y: 32.33, text: "V", color: RED });
    texts.push({ x: 470.6, y: 9.67, text: "A", color: RED }, { x: 525.5, y: 16.83, text: "V", color: RED });
    texts.push({ x: 704.4, y: 2.5, text: "100 ms" });
  }
  const pad = L ? { left: 70.1, top: 10, right: 10.5, bottom: 0 } : { left: 20.2, top: 10, right: 9.8, bottom: 0 };
  return {
    type: "scatter",
    data: { datasets },
    options: baseOptions(pad, L ? -47 : -37, L ? 1039 : 784, { type: "linear", display: false, min: 0, max: 78 }),
    plugins: [textPlugin(texts)],
  };
}

// ---------------- components ----------------
function ChartBox({ left, top, width, height, make }) {
  const ref = useRef(null);
  useEffect(() => {
    const chart = new Chart(ref.current, make());
    return () => chart.destroy();
  }, []);
  return (
    <canvas
      ref={ref}
      width={width}
      height={height}
      style={{ position: "absolute", left, top, width, height }}
    />
  );
}

function Txt({ left, baseline, size, bold, color, children, scaleX = 1, right }) {
  const style: any = {
    position: "absolute",
    top: baseline - 0.8465 * size,
    fontFamily: FONT,
    fontSize: size,
    lineHeight: `${size}px`,
    fontWeight: bold ? "bold" : "normal",
    color,
    whiteSpace: "nowrap",
    transform: `scaleX(${scaleX})`,
    transformOrigin: right !== undefined ? "right center" : "left center",
  };
  if (right !== undefined) style.right = right;
  else style.left = left;
  return <div style={style}>{children}</div>;
}

export default function App() {
  return (
    <div style={{ position: "absolute", left: 0, top: 0, width: 1489, height: 1978, background: "#ffffff", overflow: "hidden" }}>
      <div style={{ position: "absolute", left: 129.5, top: 68.3, width: 1228, height: 54.4, background: "#522e7b" }} />
      <Txt left={145} baseline={108.3} size={28} bold color="#ffffff" scaleX={0.945}>NATURE PROTOCOLS</Txt>
      <Txt right={1489 - 1335.4} baseline={113.3} size={42.5} color="#ffffff" scaleX={0.93}>PROTOCOL</Txt>

      <Txt left={197} baseline={170} size={27} bold color={INK}>a</Txt>
      <Txt left={196} baseline={587} size={27} bold color={INK}>b</Txt>
      <Txt left={895} baseline={583} size={27} bold color={INK}>c</Txt>
      <Txt left={194} baseline={1035} size={27} bold color={INK}>d</Txt>

      <ChartBox left={150} top={140} width={1160} height={410} make={makeA} />
      <ChartBox left={150} top={560} width={730} height={420} make={makeB} />
      <ChartBox left={870} top={560} width={460} height={420} make={makeC} />
      <ChartBox left={180} top={990} width={610} height={790} make={() => makeD("left")} />
      <ChartBox left={780} top={990} width={530} height={790} make={() => makeD("right")} />

      <Txt left={128} baseline={1863} size={18} bold color="#4d2d7c" scaleX={0.815}>NATURE PROTOCOLS</Txt>
      <div style={{ position: "absolute", left: 293, top: 1849, width: 2.2, height: 16, background: "#333" }} />
      <Txt left={301} baseline={1863} size={16.5} color="#3a62a8">www.nature.com/nprot</Txt>
    </div>
  );
}
